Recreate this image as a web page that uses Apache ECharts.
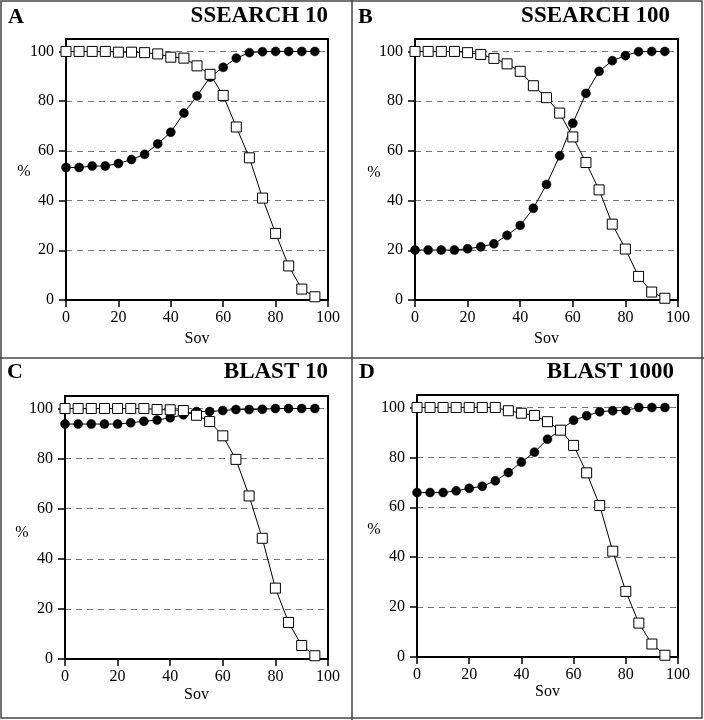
<!DOCTYPE html>
<html><head><meta charset="utf-8">
<script src="https://cdn.jsdelivr.net/npm/echarts@6/dist/echarts.min.js"></script>
<style>html,body{margin:0;padding:0;background:#fff}#c{width:704px;height:720px}</style>
</head><body><div id="c"></div>
<script>
// Sov thresholds (x values)
const sov = [0,5,10,15,20,25,30,35,40,45,50,55,60,65,70,75,80,85,90,95];
const xTicks = [0,20,40,60,80,100];
const yTicks = [0,20,40,60,80,100];

// Panel A: SSEARCH 10
const squaresA = [100,100,100,100,99.7,99.7,99.5,99,97.7,97.3,94.2,90.8,82.3,69.6,57.2,41,26.8,13.7,4.4,1.3];
const circlesA = [53.3,53.3,53.9,53.9,54.9,56.5,58.6,62.8,67.5,75.2,82.1,89.7,93.6,97.3,99.5,99.9,100,100,100,100];
// Panel B: SSEARCH 100
const squaresB = [100,100,100,100,99.5,98.8,97.2,95,92,86.2,81.4,75.2,65.6,55.3,44.3,30.5,20.5,9.5,3.2,0.7];
const circlesB = [20.1,20.1,20.1,20.1,20.6,21.4,22.6,26,30,36.9,46.5,58,71.1,83.1,92,96.3,98.3,99.9,100,100];
// Panel C: BLAST 10
const squaresC = [100,100,100,100,100,100,100,99.6,99.5,99.2,97.3,94.8,89.1,79.7,65.1,48.2,28.3,14.6,5.4,1.3];
const circlesC = [93.8,93.8,93.8,93.8,93.8,94.3,94.9,95.4,96.3,97.5,98.8,98.8,99.2,99.6,99.6,99.7,100,100,100,100];
// Panel D: BLAST 1000
const squaresD = [100,100,100,100,100,100,100,98.7,97.7,96.8,94.3,90.9,84.8,73.8,60.7,42.4,26.3,13.6,5.2,0.7];
const circlesD = [65.9,65.9,65.9,66.6,67.6,68.4,70.6,73.9,78.1,82.1,87.3,90.9,94.9,96.7,98.3,98.7,98.8,100,100,100];

const letters = ['A','B','C','D'];
const titles = ['SSEARCH 10','SSEARCH 100','BLAST 10','BLAST 1000'];
const squares = [squaresA,squaresB,squaresC,squaresD];
const circles = [circlesA,circlesB,circlesC,circlesD];

const FONT = 'Liberation Serif';
const grids = [
  {left:66, top:39, width:262, height:261},
  {left:415, top:39, width:263, height:261},
  {left:65, top:396, width:263, height:263},
  {left:417, top:395, width:261, height:262}
];
const nameGaps = [31, 31, 28, 26];
const letterPos = [[8,17],[358,17],[7,372],[359,372]];
const titlePos = [[328,16],[670,16],[328,372],[674,372]];
const pctPos = [[24,172],[374,173],[22,533],[374,530]];

const xAxes = [], yAxes = [], series = [], graphics = [];
grids.forEach((g,i)=>{
  g.show = true; g.borderColor = '#000'; g.borderWidth = 2; g.containLabel = false;
  xAxes.push({
    type:'value', gridIndex:i, min:0, max:100, interval:20,
    name:'Sov', nameLocation:'middle', nameGap:nameGaps[i],
    nameTextStyle:{fontFamily:FONT, fontSize:16, color:'#000'},
    axisLine:{show:true, onZero:false, lineStyle:{color:'#000', width:2}},
    axisTick:{show:true, length:7, lineStyle:{color:'#000', width:1.5}},
    axisLabel:{fontFamily:FONT, fontSize:16, color:'#000', margin:10},
    splitLine:{show:false}
  });
  yAxes.push({
    type:'value', gridIndex:i, min:0, max:105, interval:20,
    axisLine:{show:true, onZero:false, lineStyle:{color:'#000', width:2}},
    axisTick:{show:true, length:7, customValues:yTicks, lineStyle:{color:'#000', width:1.5}},
    axisLabel:{fontFamily:FONT, fontSize:16, color:'#000', margin:12, customValues:yTicks,
      formatter:v => (v>100 ? '' : String(v))},
    splitLine:{show:true, lineStyle:{color:'#777', width:1, type:[6,5]}}
  });
  series.push({
    type:'line', xAxisIndex:i, yAxisIndex:i,
    data: sov.map((x,k)=>[x, circles[i][k]]),
    symbol:'circle', symbolSize:9,
    itemStyle:{color:'#000', borderColor:'#000', borderWidth:0.5},
    lineStyle:{color:'#000', width:1}, z:3
  });
  series.push({
    type:'line', xAxisIndex:i, yAxisIndex:i,
    data: sov.map((x,k)=>[x, squares[i][k]]),
    symbol:'rect', symbolSize:10,
    itemStyle:{color:'#fff', borderColor:'#000', borderWidth:1},
    lineStyle:{color:'#000', width:1}, z:4
  });
  graphics.push({type:'text', x:letterPos[i][0], y:letterPos[i][1],
    style:{text:letters[i], font:'bold 22px "'+FONT+'"', fill:'#000', textAlign:'left', textVerticalAlign:'middle'}});
  graphics.push({type:'text', x:titlePos[i][0], y:titlePos[i][1],
    style:{text:titles[i], font:'bold 23px "'+FONT+'"', fill:'#000', textAlign:'right', textVerticalAlign:'middle'}});
  graphics.push({type:'text', x:pctPos[i][0], y:pctPos[i][1],
    style:{text:'%', font:'16px "'+FONT+'"', fill:'#000', textAlign:'center', textVerticalAlign:'middle'}});
});
// panel frame
graphics.push({type:'rect', shape:{x:1,y:1,width:701,height:717}, style:{fill:null, stroke:'#444', lineWidth:1.5}, silent:true});
graphics.push({type:'line', shape:{x1:352,y1:0,x2:352,y2:720}, style:{stroke:'#444', lineWidth:1.5}, silent:true});
graphics.push({type:'line', shape:{x1:0,y1:358,x2:704,y2:358}, style:{stroke:'#444', lineWidth:1.5}, silent:true});

const chart = echarts.init(document.getElementById('c'), null, {renderer:'canvas'});
chart.setOption({
  animation:false,
  backgroundColor:'#fff',
  textStyle:{fontFamily:FONT},
  grid:grids, xAxis:xAxes, yAxis:yAxes, series:series, graphic:graphics
});
</script></body></html>
